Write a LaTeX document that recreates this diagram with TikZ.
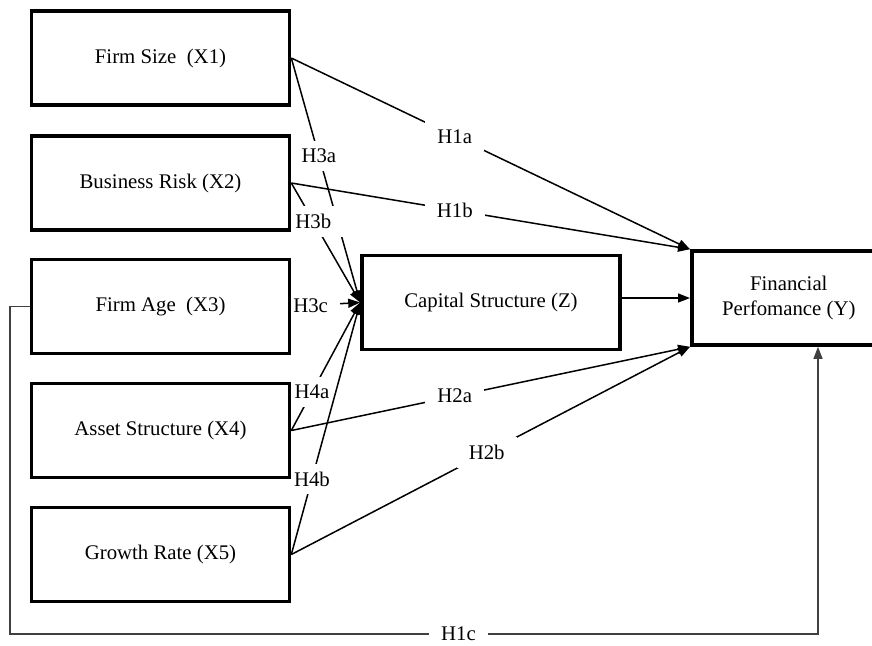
\documentclass[tikz,border=0pt]{standalone}
\usepackage{fontspec}
\setmainfont{Liberation Serif}
\usepackage{tikz}
\usetikzlibrary{arrows.meta, backgrounds}

\begin{document}
\begin{tikzpicture}[x=0.5pt, y=-0.5pt, font=\fontsize{10.4}{12.5}\selectfont,
    varbox/.style={draw, line width=1.8pt, minimum width=129pt, minimum height=47pt, inner sep=0pt, align=center},
    link/.style={line width=0.75pt, -{Triangle[length=6pt, width=4.5pt]}},
    hyp/.style={fill=white, inner xsep=6pt, inner ysep=4pt}]
    \useasboundingbox (0,0) rectangle (872,645);

    % 1. 自变量 X1 -- X5
    \node[varbox] (x1) at (160.5,58) {Firm Size\ \ (X1)};
    \node[varbox] (x2) at (160.5,183) {Business Risk (X2)};
    \node[varbox] (x3) at (160.5,306.5) {Firm Age\ \ (X3)};
    \node[varbox] (x4) at (160.5,430.5) {Asset Structure (X4)};
    \node[varbox] (x5) at (160.5,554.5) {Growth Rate (X5)};

    % 2. 中介变量 Z 与因变量 Y (右边框超出画面)
    \node[varbox] (z) at (491,302.5) {Capital Structure (Z)};
    \node[varbox, minimum width=97pt, anchor=west] (y) at (690,298) {Financial\\Perfomance (Y)};

    % H1c 折线的拐点
    \coordinate (c1) at (10,634);
    \coordinate (c2) at (818,634);

    \begin{scope}[on background layer]
        % 3. 直接效应 X -> Y
        \draw[link] (x1.east) -- node[hyp, pos=0.41] {H1a} (y.north west);
        \draw[link] (x2.east) -- node[hyp, pos=0.41] {H1b} (y.north west);
        \draw[link] (x4.east) -- node[hyp, pos=0.41] {H2a} (y.south west);
        \draw[link] (x5.east) -- node[hyp, pos=0.49] {H2b} (y.south west);

        % 4. X -> Z,箭头汇于 Z 左侧
        \draw[link] (x1.east) -- node[hyp, pos=0.40] {H3a} (z.west);
        \draw[link] (x2.east) -- node[hyp, pos=0.32] {H3b} (z.west);
        \draw[link] (x3.east) -- node[hyp, pos=0.28] {H3c} (z.west);
        \draw[link] (x4.east) -- node[hyp, pos=0.30] {H4a} (z.west);
        \draw[link] (x5.east) -- node[hyp, pos=0.30] {H4b} (z.west);

        % 5. Z -> Y
        \draw[link] (z.east |- y.west) -- (y.west);

        % 6. X3 -> Y 沿底部绕行
        \draw[link, line width=0.6pt, black!75] (x3.west) -| (c1)
            -- node[hyp, inner ysep=0.5pt, text=black, pos=0.555] {H1c} (c2) -- (c2 |- y.south);
    \end{scope}
\end{tikzpicture}
\end{document}
